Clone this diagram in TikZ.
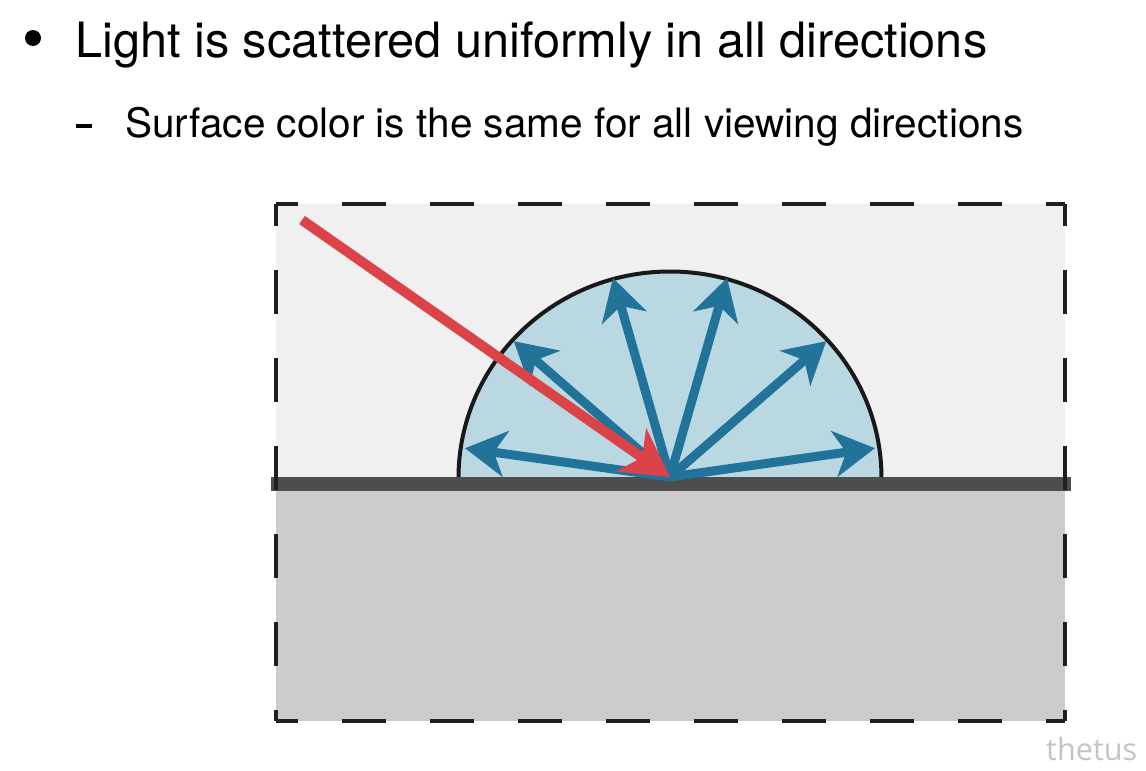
\documentclass[tikz,border=0pt]{standalone}
\usepackage{fontspec}
\setmainfont{TeX Gyre Heros}
\newfontfamily\wmfont{Open Sans}
\usetikzlibrary{arrows.meta,calc}
\definecolor{bgtop}{HTML}{F0F0F0}
\definecolor{bgbot}{HTML}{CCCCCC}
\definecolor{barcol}{HTML}{4D4D4D}
\definecolor{domecol}{HTML}{BAD8E1}
\definecolor{bluecol}{HTML}{21739A}
\definecolor{redcol}{HTML}{DC4348}
\definecolor{wmcol}{HTML}{C4C4C4}
\tikzset{
  frameedge/.style={line width=4pt, draw=black!88, dash pattern=on 44pt off 44pt, dash phase=22pt},
  scat/.style={line width=9pt, draw=bluecol, -{Stealth[length=41pt,width=46pt,inset=12pt]}},
  incident/.style={line width=10pt, draw=redcol, -{Stealth[length=47pt,width=52pt,inset=13pt]}},
}
\begin{document}
\begin{tikzpicture}[x=1pt,y=-1pt]
\useasboundingbox (0,0) rectangle (1146,771);
\fill[white] (0,0) rectangle (1146,771);
% text
\fill[black] (33,38) circle[radius=8];
\node[anchor=base west, inner sep=0pt] (l1) at (75,57) {\resizebox{912pt}{!}{Light is scattered uniformly in all directions}};
\fill[black] (76,124) rectangle (92,128);
\node[anchor=base west, inner sep=0pt] (l2) at (125,137) {\resizebox{898pt}{!}{Surface color is the same for all viewing directions}};
% backgrounds
\fill[bgtop] (276,204) rectangle (1065,478);
\fill[bgbot] (276,491) rectangle (1065,721);
% dome
\draw[fill=domecol, line width=4pt, draw=black!90] (458.5,478) arc[start angle=180, end angle=360, x radius=211.5, y radius=206.5];
% surface
\fill[barcol] (271,477) rectangle (1071,491);
% frame
\coordinate (c1) at (276,204);
\coordinate (c2) at (1065,204);
\coordinate (c3) at (1065,721);
\coordinate (c4) at (276,721);
\draw[frameedge] (c1) -- (c2);
\draw[frameedge] (c2) -- (c3);
\draw[frameedge] (c4) -- (c3);
\draw[frameedge] (c1) -- (c4);
% scattered arrows
\coordinate (o) at (670,477);
\foreach \a/\n in {-8/t1,-41/t2,-74/t3,-106/t4,-139/t5,-172/t6}{
  \coordinate (\n) at ($(o)+(\a:207)$);
}
\foreach \n in {t1,t2,t3,t4,t5,t6}{
  \draw[scat] (o) -- (\n);
}
% incident
\coordinate (src) at (302,220);
\draw[incident] (src) -- (o);
% watermark
\node[anchor=base west, inner sep=0pt, text=wmcol] (wm) at (1046,760) {\resizebox{91pt}{!}{\wmfont thetus}};
\end{tikzpicture}
\end{document}
